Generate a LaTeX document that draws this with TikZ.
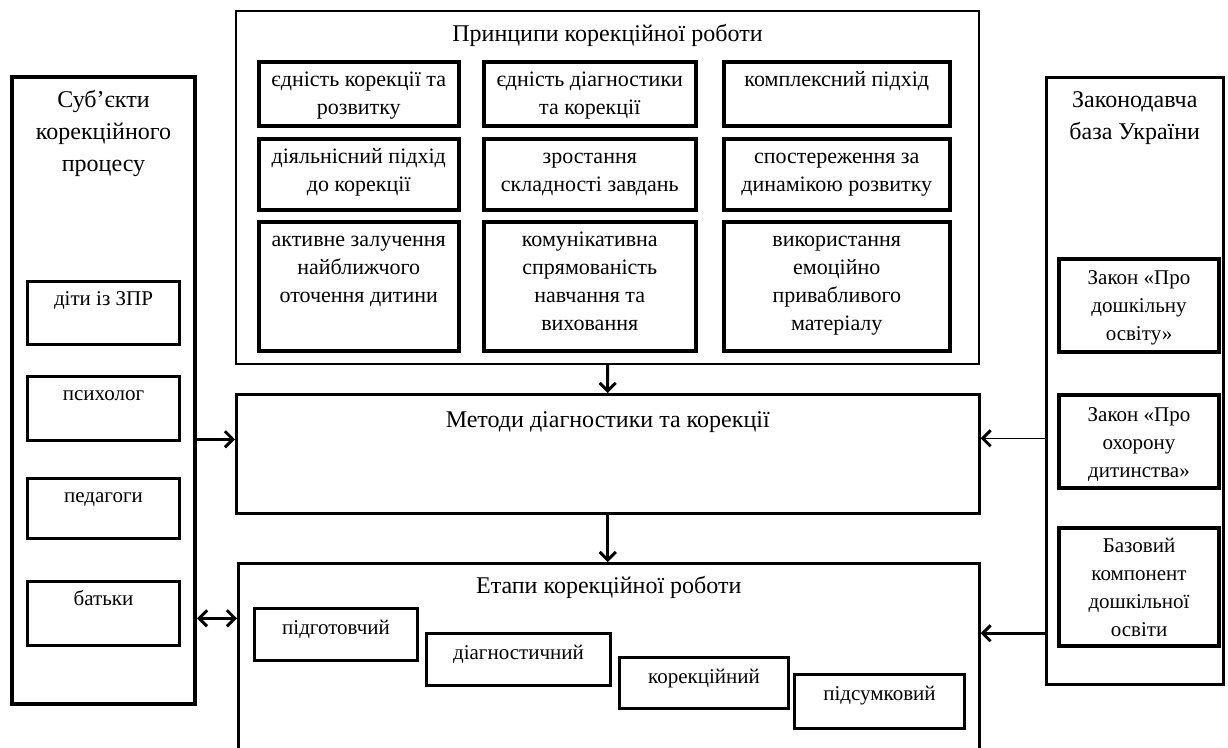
\documentclass[tikz,border=0pt]{standalone}
\usepackage{fontspec}
\setmainfont{Liberation Serif}
\usetikzlibrary{arrows.meta}
\newcommand{\cellbox}[4]{\parbox[c][#2pt][t]{#1pt}{\centering\rule{0pt}{#3pt}#4}}

\begin{document}
\begin{tikzpicture}[x=1pt, y=-1pt,
    frame/.style={rectangle, draw, line width=2.5pt, inner sep=0pt, anchor=north west, font=\fontsize{24}{32}\selectfont},
    inbox/.style={rectangle, draw, line width=3.5pt, inner sep=0pt, anchor=north west, font=\fontsize{21}{28}\selectfont},
    princ/.style={inbox, font=\fontsize{22}{28}\selectfont},
    arr/.style={line width=3pt, -{Straight Barb[length=8pt, width=16pt]}},
    arrthin/.style={line width=1.5pt, -{Straight Barb[length=8pt, width=16pt, line width=3pt]}},
    darr/.style={line width=3pt, {Straight Barb[length=8pt, width=16pt]}-{Straight Barb[length=8pt, width=16pt]}}]
    \useasboundingbox (0,0) rectangle (1228,747);

    \node[frame, line width=2pt] (P) at (235,10) {\cellbox{743}{353}{30}{Принципи корекційної роботи}};
    \node[princ] (p11) at (257,60) {\cellbox{200}{64}{25}{єдність корекції та\\розвитку}};
    \node[princ] (p12) at (482,60) {\cellbox{212}{64}{25}{єдність діагностики\\та корекції}};
    \node[princ] (p13) at (722,60) {\cellbox{226}{64}{25}{комплексний підхід}};
    \node[princ] (p21) at (257,137) {\cellbox{200}{71}{25}{діяльнісний підхід\\до корекції}};
    \node[princ] (p22) at (482,137) {\cellbox{212}{71}{25}{зростання\\складності завдань}};
    \node[princ] (p23) at (722,137) {\cellbox{226}{71}{25}{спостереження за\\динамікою розвитку}};
    \node[princ] (p31) at (257,220) {\cellbox{200}{129}{25}{активне залучення\\найближчого\\оточення дитини}};
    \node[princ] (p32) at (482,220) {\cellbox{212}{129}{25}{комунікативна\\спрямованість\\навчання та\\виховання}};
    \node[princ] (p33) at (722,220) {\cellbox{226}{129}{25}{використання\\емоційно\\привабливого\\матеріалу}};

    \node[frame] (M) at (235,393) {\cellbox{743}{119}{33}{Методи діагностики та корекції}};
    \node[frame] (S) at (237,562) {\cellbox{741}{210}{30}{Етапи корекційної роботи}};
    \node[inbox, line width=3pt] (s1) at (253,607) {\cellbox{163}{52}{26}{підготовчий}};
    \node[inbox, line width=3pt] (s2) at (425,632) {\cellbox{184}{52}{26}{діагностичний}};
    \node[inbox, line width=3pt] (s3) at (618,656) {\cellbox{169}{51}{26}{корекційний}};
    \node[inbox, line width=3pt] (s4) at (793,673) {\cellbox{170}{54}{26}{підсумковий}};

    \node[frame, line width=4pt] (L) at (10,75) {\cellbox{183}{627}{30}{Суб’єкти\\корекційного\\процесу}};
    \node[inbox, line width=3pt] (l1) at (26,280) {\cellbox{152}{63}{24}{діти із ЗПР}};
    \node[inbox, line width=3pt] (l2) at (26,375) {\cellbox{152}{64}{24}{психолог}};
    \node[inbox, line width=3pt] (l3) at (26,477) {\cellbox{152}{60}{24}{педагоги}};
    \node[inbox, line width=3pt] (l4) at (26,580) {\cellbox{152}{64}{24}{батьки}};

    \node[frame] (R) at (1045,76) {\cellbox{177}{607}{30}{Законодавча\\база України}};
    \node[inbox, line width=4pt] (r1) at (1057,257) {\cellbox{160}{93}{25}{Закон «Про\\дошкільну\\освіту»}};
    \node[inbox, line width=4pt] (r2) at (1057,393) {\cellbox{160}{93}{26}{Закон «Про\\охорону\\дитинства»}};
    \node[inbox, line width=4pt] (r3) at (1057,526) {\cellbox{160}{118}{24}{Базовий\\компонент\\дошкільної\\освіти}};

    \coordinate (mL) at ([yshift=14.5pt]M.west);
    \coordinate (mR) at ([yshift=15.5pt]M.east);
    \coordinate (sL) at ([yshift=50pt]S.west);
    \coordinate (sR) at ([yshift=35pt]S.east);

    \draw[arr] (P.south) -- (M.north);
    \draw[arr] (M.south) -- (M.south |- S.north);
    \draw[arr] (mL -| L.east) -- (mL);
    \draw[darr] (sL -| L.east) -- (sL);
    \draw[arrthin] (mR -| R.west) -- (mR);
    \draw[arr] (sR -| R.west) -- (sR);
\end{tikzpicture}
\end{document}
